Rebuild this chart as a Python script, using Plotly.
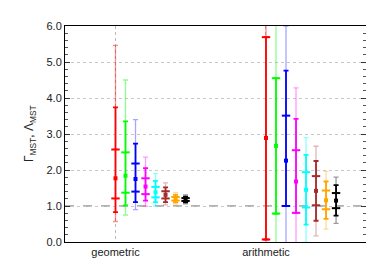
import plotly.graph_objects as go

categories = ["geometric", "arithmetic"]
colors = ["#ff0000", "#00ff00", "#0000ff", "#ff00ff", "#00ffff", "#a52a2a", "#ffa500", "#000000"]
light = ["rgba(255,0,0,0.45)", "rgba(0,255,0,0.45)", "rgba(0,0,255,0.35)", "rgba(255,0,255,0.4)",
         "rgba(0,255,255,0.45)", "rgba(165,42,42,0.35)", "rgba(255,165,0,0.4)", "rgba(0,0,0,0.4)"]

# geometric: centre, inner (x sigma), middle (x sigma^2), outer (x sigma^3)
center_geo = [1.77, 1.84, 1.75, 1.54, 1.38, 1.31, 1.20, 1.18]
in_lo_geo = [1.21, 1.37, 1.40, 1.33, 1.24, 1.21, 1.15, 1.14]
in_hi_geo = [2.57, 2.49, 2.18, 1.77, 1.53, 1.41, 1.25, 1.22]
mid_lo_geo = [0.83, 1.02, 1.11, 1.15, 1.11, 1.11, 1.10, 1.10]
mid_hi_geo = [3.74, 3.35, 2.73, 2.05, 1.70, 1.52, 1.31, 1.26]
out_lo_geo = [0.57, 0.75, 0.90, 0.99, 1.00, 1.03, 1.05, 1.06]
out_hi_geo = [5.46, 4.50, 3.40, 2.36, 1.90, 1.64, 1.37, 1.31]

# arithmetic
center_ari = [2.89, 2.67, 2.26, 1.68, 1.45, 1.42, 1.16, 1.15]
in_lo_ari = [0.07, 0.79, 1.00, 0.81, 0.96, 1.02, 0.91, 0.94]
in_hi_ari = [5.69, 4.55, 3.51, 2.55, 1.94, 1.83, 1.43, 1.36]
mid_lo_ari = [0.07, 0.79, 1.00, 0.81, 0.48, 0.59, 0.64, 0.73]
mid_hi_ari = [5.69, 4.55, 4.76, 3.42, 2.42, 2.25, 1.68, 1.58]
out_lo_ari = [-5.5, -2.97, -1.49, -0.93, -0.01, 0.17, 0.36, 0.52]
out_hi_ari = [11.3, 8.31, 6.0, 4.28, 2.90, 2.66, 1.96, 1.80]

cat_pos = [1, 2]
offset = 0.0665

fig = go.Figure()
for i, c in enumerate(colors):
    xs = [p + i * offset for p in cat_pos]
    cen = [center_geo[i], center_ari[i]]
    olo = [out_lo_geo[i], out_lo_ari[i]]
    ohi = [out_hi_geo[i], out_hi_ari[i]]
    mlo = [mid_lo_geo[i], mid_lo_ari[i]]
    mhi = [mid_hi_geo[i], mid_hi_ari[i]]
    ilo = [in_lo_geo[i], in_lo_ari[i]]
    ihi = [in_hi_geo[i], in_hi_ari[i]]
    fig.add_trace(go.Scatter(
        x=xs, y=cen, mode="markers", marker=dict(size=1, opacity=0),
        error_y=dict(type="data", symmetric=False,
                     array=[h - m for h, m in zip(ohi, cen)],
                     arrayminus=[m - l for l, m in zip(olo, cen)],
                     color=light[i], thickness=1.3, width=2.5),
        showlegend=False, hoverinfo="skip"))
    fig.add_trace(go.Scatter(
        x=xs, y=cen, mode="markers", marker=dict(size=1, opacity=0),
        error_y=dict(type="data", symmetric=False,
                     array=[h - m for h, m in zip(mhi, cen)],
                     arrayminus=[m - l for l, m in zip(mlo, cen)],
                     color=c, thickness=1.8, width=2.5),
        showlegend=False, hoverinfo="skip"))
    fig.add_trace(go.Scatter(
        x=xs + xs, y=ilo + ihi, mode="markers",
        marker=dict(symbol="line-ew", size=6, line=dict(width=2, color=c)),
        showlegend=False, hoverinfo="skip"))
    fig.add_trace(go.Scatter(
        x=xs, y=cen, mode="markers",
        marker=dict(symbol="square", size=4, color=c, line=dict(width=0)),
        showlegend=False, hoverinfo="skip"))

fig.add_shape(type="line", xref="paper", yref="y", x0=0, x1=1, y0=1, y1=1,
              line=dict(color="#666666", width=1, dash="dash"), layer="below")

fig.update_layout(
    width=374, height=262,
    margin=dict(l=57, r=16, t=12, b=21),
    paper_bgcolor="white", plot_bgcolor="white",
    font=dict(family="Liberation Sans, Arial, sans-serif", size=11, color="#222222"),
    xaxis=dict(range=[0.6645, 2.6645], tickvals=cat_pos, ticktext=categories,
               showline=True, linecolor="black", linewidth=1, mirror=True,
               showgrid=True, gridcolor="#bbbbbb", griddash="dot", gridwidth=1,
               zeroline=False, ticks="", tickfont=dict(size=11)),
    yaxis=dict(range=[0, 6], dtick=1, tickformat=".1f",
               showline=True, linecolor="black", linewidth=1, mirror="ticks",
               ticks="inside", ticklen=5, tickcolor="#333333",
               minor=dict(dtick=0.2, ticks="inside", ticklen=3, tickcolor="#555555", showgrid=False),
               showgrid=True, gridcolor="#c8c8c8", griddash="dot", gridwidth=1,
               zeroline=False, tickfont=dict(size=11)),
    annotations=[dict(text="Γ<sub>MST</sub>, Λ<sub>MST</sub>", xref="paper", yref="paper",
                      x=-0.116, y=0.5, xanchor="center", yanchor="middle",
                      textangle=-90, showarrow=False, font=dict(size=12, color="#222222"))],
)

fig.write_html("out.html")
